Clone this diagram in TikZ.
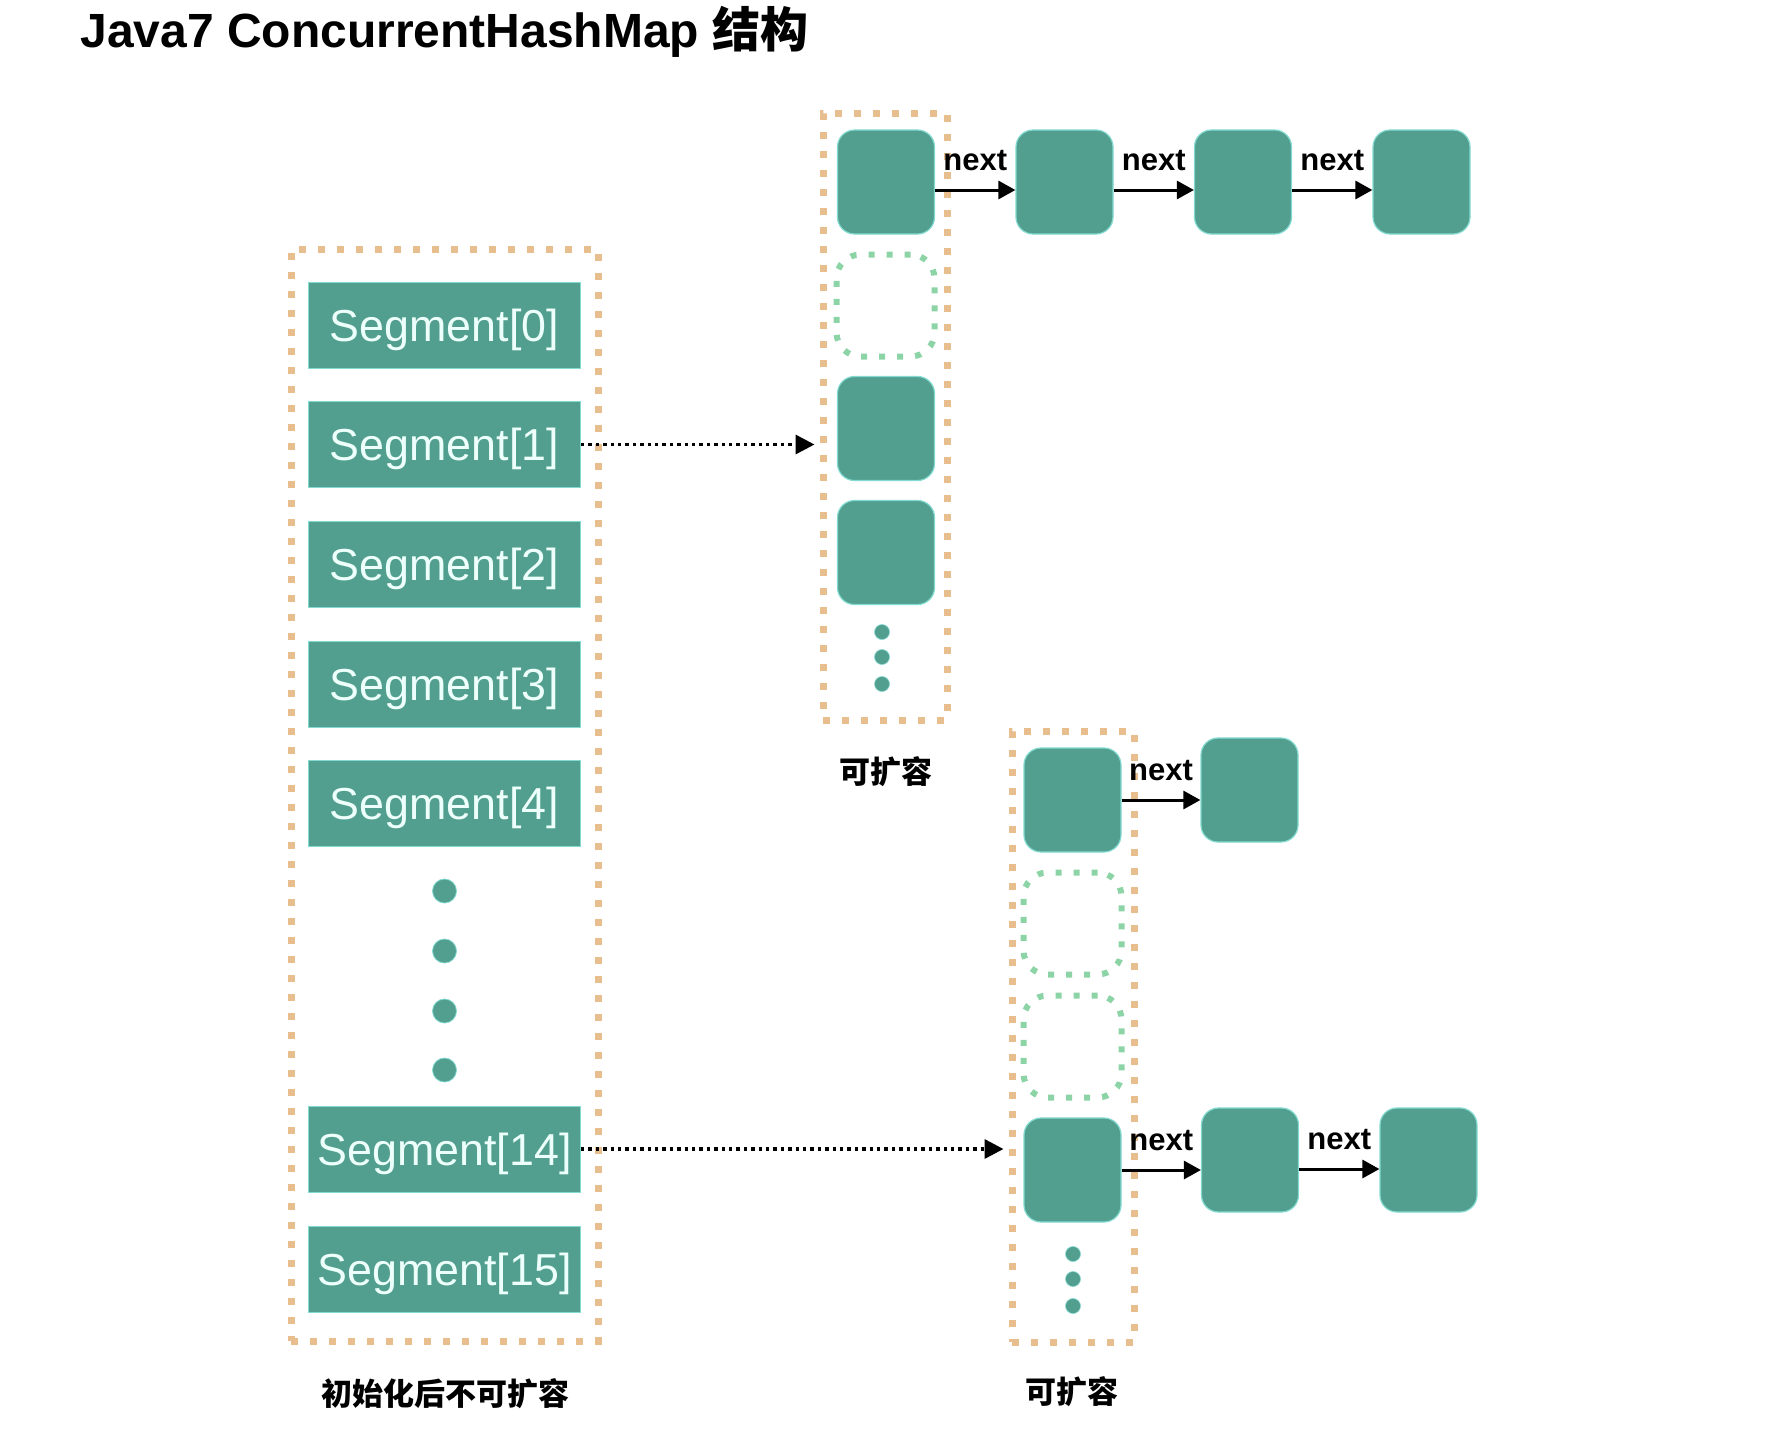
\documentclass[tikz,border=0pt]{standalone}
\usepackage{fontspec}
\setmainfont{Liberation Sans}
\newfontfamily\cjk{Noto Sans CJK SC}
\usetikzlibrary{arrows.meta}
\definecolor{tealfill}{RGB}{82,158,143}
\definecolor{tealedge}{RGB}{130,218,208}
\definecolor{segtext}{RGB}{236,255,250}
\definecolor{tableorange}{RGB}{232,190,142}
\definecolor{slotgreen}{RGB}{140,212,166}
\begin{document}
\begin{tikzpicture}[x=0.5pt,y=-0.5pt,
  seg/.style={fill=tealfill, draw=tealedge, line width=0.5pt, minimum width=136pt,
    minimum height=43pt, inner sep=0pt, text=segtext, font=\fontsize{22.4}{26}\selectfont,
    text height=21pt, text depth=4.7pt},
  entry/.style={fill=tealfill, draw=tealedge, line width=0.6pt, rounded corners=8.5pt,
    minimum width=48.5pt, minimum height=52pt, inner sep=0pt},
  slot/.style={draw=slotgreen, line width=3pt, dash pattern=on 3pt off 6pt,
    rounded corners=12pt, minimum width=49pt, minimum height=51pt, inner sep=0pt},
  tablebox/.style={draw=tableorange, line width=3.5pt, dash pattern=on 3.5pt off 6pt, inner sep=0pt},
  bigdot/.style={circle, fill=tealfill, draw=tealedge, line width=0.4pt, minimum size=12pt, inner sep=0pt},
  smalldot/.style={circle, fill=tealfill, draw=tealedge, line width=0.3pt, minimum size=7.5pt, inner sep=0pt},
  nextarrow/.style={draw=black, line width=1.5pt, -{Triangle[length=8.5pt,width=9pt]}},
  nextlabel/.style={midway, above=9pt, inner sep=0pt, font=\bfseries\fontsize{15.5}{18}\selectfont},
  ptr/.style={draw=black, line width=1.7pt, dash pattern=on 1.7pt off 2pt,
    -{Triangle[length=9.5pt,width=9.5pt]}, shorten >=2.5pt},
  cjklabel/.style={inner sep=0pt, font=\cjk\bfseries\fontsize{15.5}{18}\selectfont}
]
\useasboundingbox (0,0) rectangle (1792,1440);
\fill[white] (0,0) rectangle (1792,1440);

% title
\node[anchor=base west, inner sep=0pt, font=\bfseries\fontsize{24}{28}\selectfont] (title) at (80,47)
  {Java7 ConcurrentHashMap {\cjk 结构}};

% tables
\node[tablebox, minimum width=153.5pt, minimum height=546pt] (tL) at (444.5,795) {};
\node[tablebox, minimum width=62pt, minimum height=303.5pt] (tA) at (885,416.5) {};
\node[tablebox, minimum width=61pt, minimum height=305.5pt] (tB) at (1073,1036.5) {};

% segments
\node[seg] (s0) at (444.5,325.5) {Segment[0]};
\node[seg] (s1) at (444.5,444.5) {Segment[1]};
\node[seg] (s2) at (444.5,564) {Segment[2]};
\node[seg] (s3) at (444.5,684) {Segment[3]};
\node[seg] (s4) at (444.5,803) {Segment[4]};
\node[seg] (s14) at (444.5,1149) {Segment[14]};
\node[seg] (s15) at (444.5,1269) {Segment[15]};
\node[bigdot] (ld1) at (444.5,891) {};
\node[bigdot] (ld2) at (444.5,951) {};
\node[bigdot] (ld3) at (444.5,1011) {};
\node[bigdot] (ld4) at (444.5,1070) {};
\node[cjklabel] (labL) at (445,1394) {初始化后不可扩容};

% table A
\node[entry] (a0) at (886,182) {};
\node[slot] (a1) at (885.5,305.5) {};
\node[entry] (a2) at (886,428.5) {};
\node[entry] (a3) at (886,552.5) {};
\node[smalldot] (ad1) at (882,632) {};
\node[smalldot] (ad2) at (882,657) {};
\node[smalldot] (ad3) at (882,684) {};
\node[cjklabel] (labA) at (886,772) {可扩容};
\node[entry] (c1) at (1064.5,182) {};
\node[entry] (c2) at (1243,182) {};
\node[entry] (c3) at (1421.5,182) {};

% table B
\node[entry] (b0) at (1072.5,800) {};
\node[slot] (b1) at (1072.5,923.5) {};
\node[slot] (b2) at (1072.5,1046.5) {};
\node[entry] (b3) at (1072.5,1170) {};
\node[smalldot] (bd1) at (1073,1254) {};
\node[smalldot] (bd2) at (1073,1279) {};
\node[smalldot] (bd3) at (1073,1306) {};
\node[cjklabel] (labB) at (1072,1392) {可扩容};
\node[entry] (d1) at (1249.5,790) {};
\node[entry] (e1) at (1250,1160) {};
\node[entry] (e2) at (1428.5,1160) {};

% next arrows
\coordinate (pa0) at ([yshift=-4pt]a0.east);
\coordinate (pc1) at ([yshift=-4pt]c1.east);
\coordinate (pc2) at ([yshift=-4pt]c2.east);
\coordinate (pb0) at ([yshift=0pt]b0.east);
\coordinate (pb3) at ([yshift=0pt]b3.east);
\coordinate (pe1) at ([yshift=-4.5pt]e1.east);
\draw[nextarrow] (pa0) -- (pa0 -| c1.west) node[nextlabel] {next};
\draw[nextarrow] (pc1) -- (pc1 -| c2.west) node[nextlabel] {next};
\draw[nextarrow] (pc2) -- (pc2 -| c3.west) node[nextlabel] {next};
\draw[nextarrow] (pb0) -- (pb0 -| d1.west) node[nextlabel] {next};
\draw[nextarrow] (pb3) -- (pb3 -| e1.west) node[nextlabel] {next};
\draw[nextarrow] (pe1) -- (pe1 -| e2.west) node[nextlabel] {next};

% segment pointers
\draw[ptr] (s1.east) -- (s1.east -| tA.west);
\draw[ptr] (s14.east) -- (s14.east -| tB.west);
\end{tikzpicture}
\end{document}
